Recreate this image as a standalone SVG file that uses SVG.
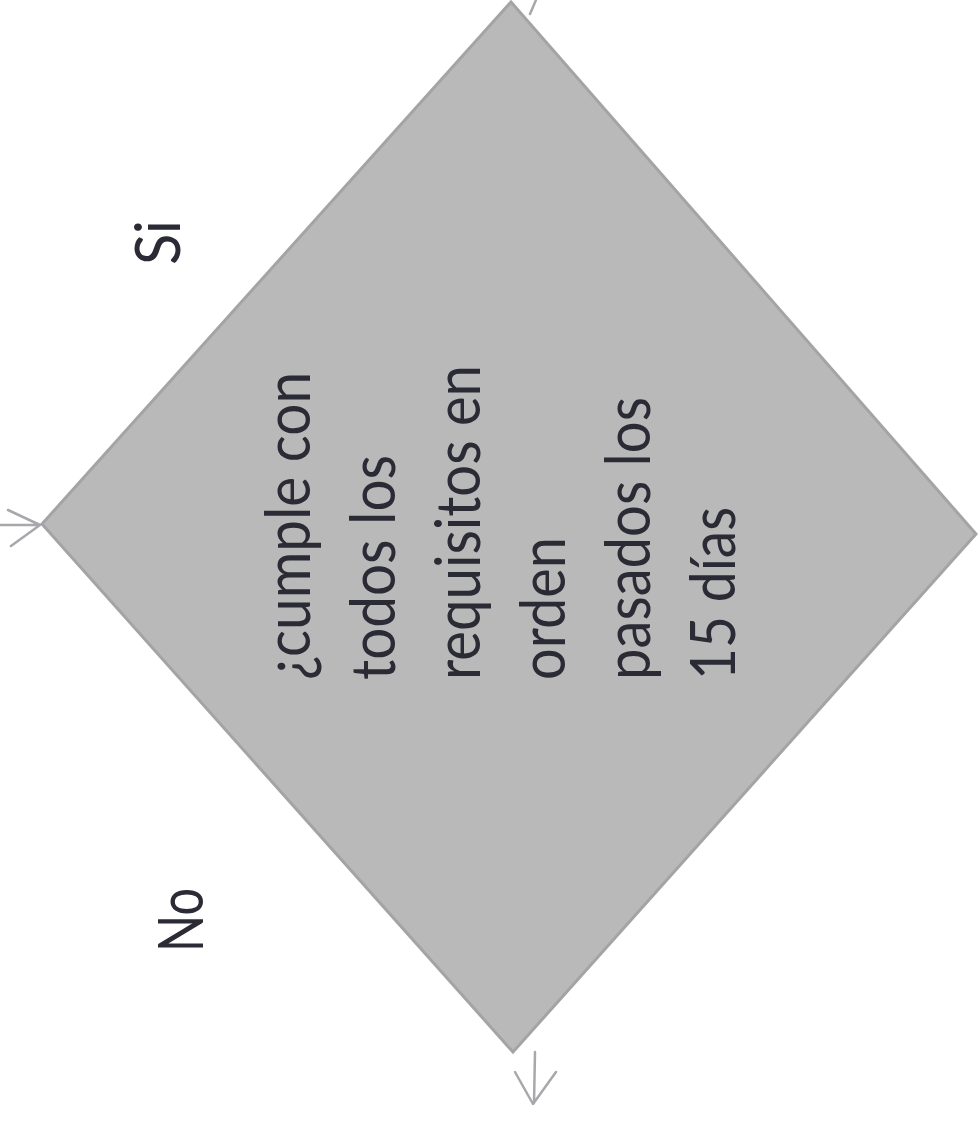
<svg xmlns="http://www.w3.org/2000/svg" width="978" height="1123" viewBox="0 0 978 1123">
<defs>
<style>
.lbl{font-family:"Lato","Liberation Sans",sans-serif;font-size:62px;fill:#2b2b36;}
.conn{fill:none;stroke:#a8a8ac;stroke-width:2.5;stroke-linecap:round;stroke-linejoin:round;}
</style>
</defs>
<rect width="978" height="1123" fill="#ffffff"/>
<g id="connectors">
<path class="conn" d="M0,525 L40,525 M8,510 L40,525 L11,546"/>
<path class="conn" d="M530,14 L536,0"/>
<path class="conn" d="M535,1052 L534,1103 M515,1072 L533,1104 L556,1072"/>
</g>
<g id="decision">
<polygon points="511,2 976,534 513,1052 42,524" fill="#b9b9ba" stroke="#a4a4a7" stroke-width="3"/>
<text class="lbl" transform="translate(310,680) rotate(-90)" textLength="308" lengthAdjust="spacingAndGlyphs">¿cumple con</text>
<text class="lbl" transform="translate(395,680) rotate(-90)" textLength="225" lengthAdjust="spacingAndGlyphs">todos los</text>
<text class="lbl" transform="translate(480,680) rotate(-90)" textLength="315" lengthAdjust="spacingAndGlyphs">requisitos en</text>
<text class="lbl" transform="translate(565,680) rotate(-90)" textLength="143" lengthAdjust="spacingAndGlyphs">orden</text>
<text class="lbl" transform="translate(650,680) rotate(-90)" textLength="283" lengthAdjust="spacingAndGlyphs">pasados los</text>
<text class="lbl" transform="translate(735,680) rotate(-90)" textLength="173" lengthAdjust="spacingAndGlyphs">15 días</text>
</g>
<g id="label-si">
<text class="lbl" transform="translate(180,265) rotate(-90)" textLength="45" lengthAdjust="spacingAndGlyphs">Si</text>
</g>
<g id="label-no">
<text class="lbl" transform="translate(203,952) rotate(-90)" textLength="64" lengthAdjust="spacingAndGlyphs">No</text>
</g>
</svg>
